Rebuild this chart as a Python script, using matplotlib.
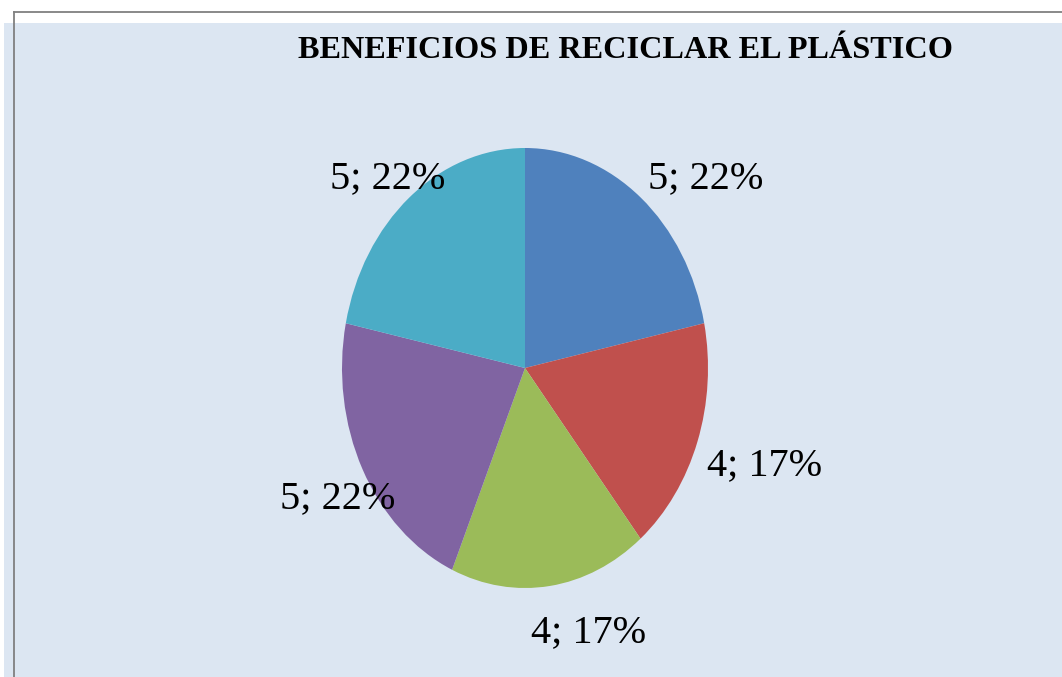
import matplotlib
matplotlib.use("Agg")
import matplotlib.pyplot as plt
from matplotlib.patches import Rectangle
from matplotlib.lines import Line2D

# ---- data ----
title = "BENEFICIOS DE RECICLAR EL PLÁSTICO"
values = [5, 4, 4, 5, 5]
colors = ["#4F81BD", "#C0504D", "#9BBB59", "#8064A2", "#4BACC6"]

# ---- layout ----
W, H = 1062, 677
def fx(x): return x / W
def fy(y): return 1 - y / H

fig = plt.figure(figsize=(W / 100, H / 100), dpi=100)
fig.patch.set_facecolor("white")

# background panel
fig.patches.append(Rectangle((fx(4), 0), 1 - fx(4), fy(23), transform=fig.transFigure,
                             facecolor="#DCE6F2", edgecolor="none", zorder=-2))
# grey frame lines
fig.lines.append(Line2D([fx(14), 1], [fy(11.5), fy(11.5)], transform=fig.transFigure,
                        color="#808080", lw=1.3, zorder=-1))
fig.lines.append(Line2D([fx(14), fx(14)], [fy(11.5), 0], transform=fig.transFigure,
                        color="#808080", lw=1.3, zorder=-1))

# pie axes (ellipse: rx=183, ry=220 px, center at 525,368)
cx, cy, rx, ry = 525, 368, 183, 220
ax = fig.add_axes([fx(cx - rx), fy(cy + ry), 2 * rx / W, 2 * ry / H])
ax.set_zorder(1)
wedges, _ = ax.pie(values, colors=colors, startangle=90, counterclock=False,
                   radius=1, wedgeprops=dict(edgecolor="none", linewidth=0))
ax.set_aspect("auto")
ax.set_xlim(-1, 1)
ax.set_ylim(-1, 1)
ax.axis("off")

total = sum(values)
labels = [f"{v}; {round(100 * v / total)}%" for v in values]
# label anchor positions (pixels: center x, baseline y)
label_pos = [(706, 188), (765, 475), (589, 642), (338, 508), (388, 188)]
for lab, (px, py) in zip(labels, label_pos):
    fig.text(fx(px), fy(py), lab, ha="center", va="baseline",
             fontsize=29, family="Liberation Serif", color="black", zorder=3)

fig.text(fx(625), fy(58), title, ha="center", va="baseline", fontsize=23.2,
         fontweight="bold", family="Liberation Serif", color="black", zorder=3)

fig.savefig("out.png", dpi=100)
